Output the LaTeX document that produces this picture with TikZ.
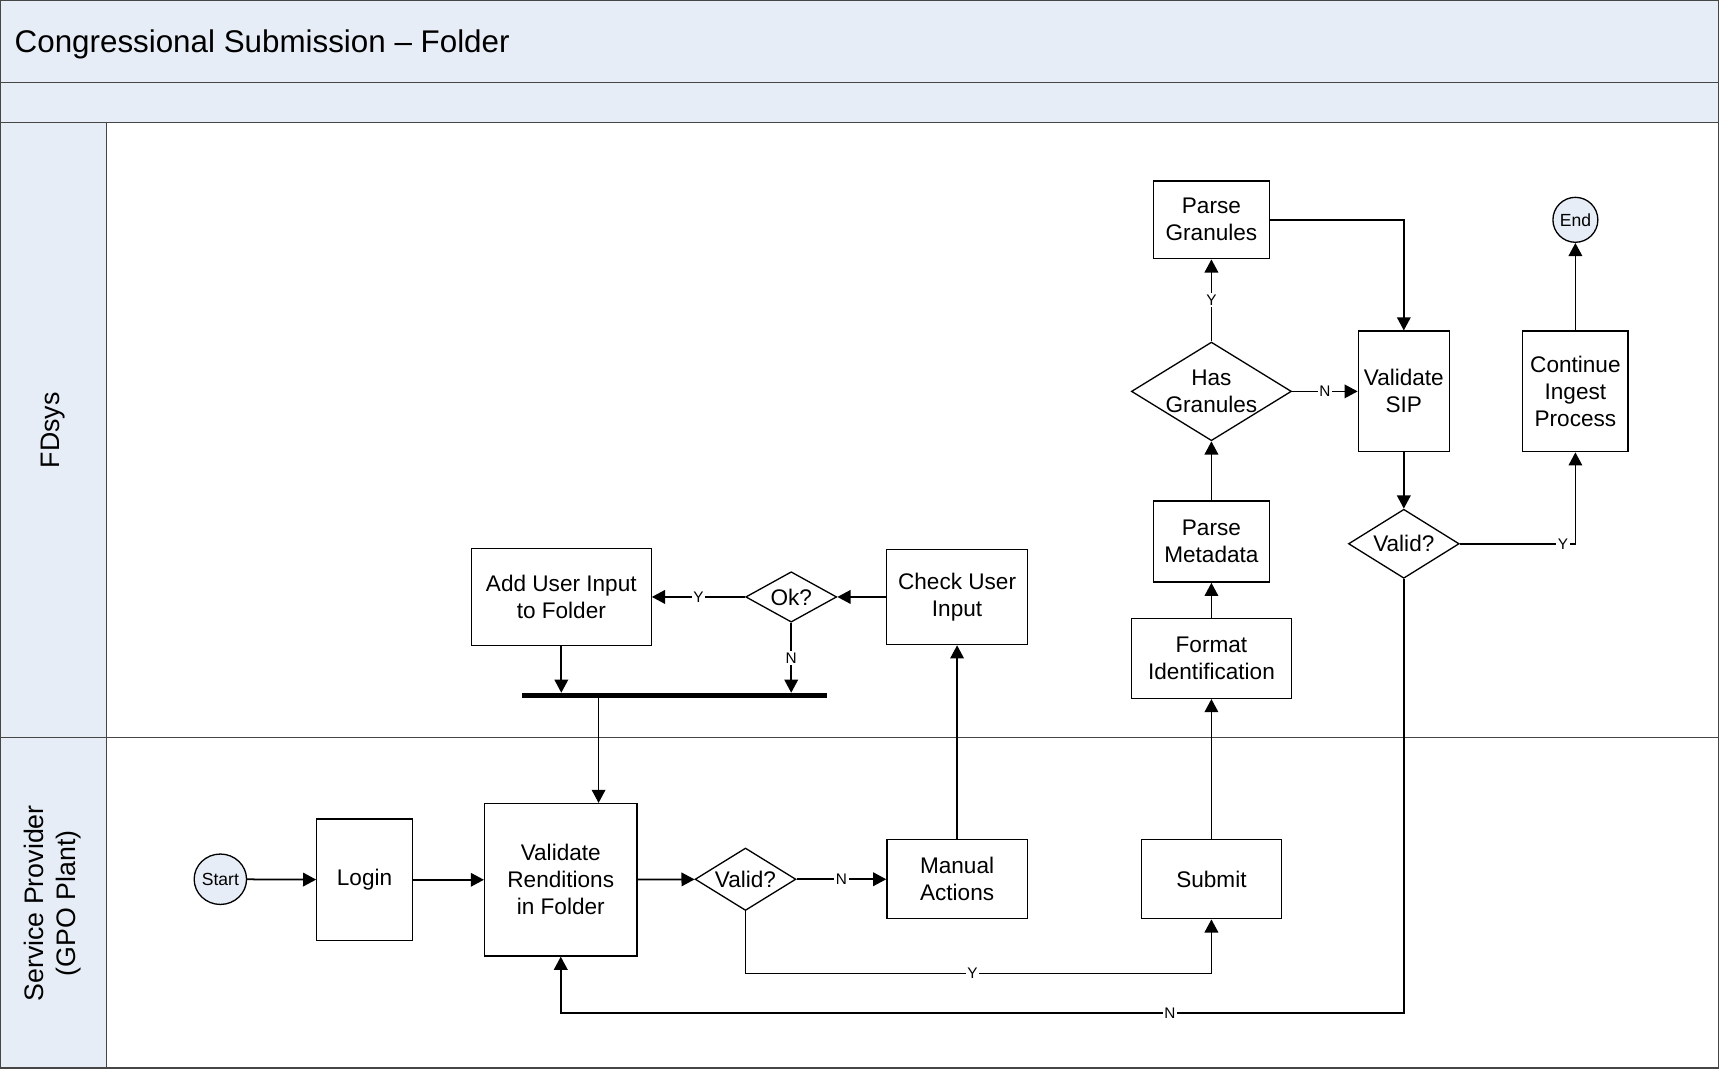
\documentclass[tikz,border=0pt]{standalone}
\usepackage{fontspec}
\setmainfont{Liberation Sans}
\usetikzlibrary{shapes.geometric,arrows.meta,calc}
\definecolor{bandblue}{RGB}{231,237,247}
\definecolor{framegray}{RGB}{70,70,70}
\tikzset{
 box/.style={draw=black, line width=0.6pt, fill=white, align=center, inner sep=1pt, font=\fontsize{10.3pt}{12.3pt}\selectfont},
 sz/.style 2 args={minimum width=#1*0.5pt, minimum height=#2*0.5pt},
 dia/.style={diamond, draw=black, line width=0.6pt, fill=white, inner sep=0pt},
 dtxt/.style={font=\fontsize{10.3pt}{12.3pt}\selectfont, align=center, inner sep=0pt},
 term/.style={ellipse, draw=black, line width=0.6pt, fill=bandblue, inner sep=0pt, font=\fontsize{8pt}{9pt}\selectfont},
 arr/.style={line width=0.8pt, -{Triangle[length=6pt,width=6.2pt]}},
 lbl/.style={fill=white, inner sep=0.8pt, font=\fontsize{7pt}{8pt}\selectfont},
 frame/.style={draw=framegray, line width=0.6pt},
 lane/.style={rotate=90, align=center, font=\fontsize{12.2pt}{14.5pt}\selectfont}
}
\begin{document}
\begin{tikzpicture}[x=0.5pt,y=-0.5pt]
\useasboundingbox (0,0) rectangle (1568,975);
% background bands
\fill[bandblue] (0,0) rectangle (1568,112);
\fill[bandblue] (0,112) rectangle (97,975);
\draw[frame] (0,75) -- (1568,75);
\draw[frame] (0,112) -- (1568,112);
\draw[frame] (97,112) -- (97,975);
\draw[frame] (0,673) -- (1568,673);
\draw[frame] (0.6,0.6) rectangle (1567.4,974.2);
% titles
\node[anchor=base west, font=\fontsize{14.3pt}{16pt}\selectfont, inner sep=0pt] (title) at (13,48) {Congressional Submission – Folder};
\node[lane] (fdsys) at (48,392.5) {FDsys};
\node[lane] (sp) at (48,824) {Service Provider\\(GPO Plant)};
% lower lane nodes
\node[term, minimum width=23pt, minimum height=23pt] (start) at (201,802) {Start};
\node[box, sz={87}{111}] (login) at (332.5,802.5) {Login};
\node[box, sz={139}{139}] (validate) at (511.5,802.5) {Validate\\Renditions\\in Folder};
\node[dia, sz={92}{57}, label={[dtxt]center:Valid?}] (valid1) at (680,802) {};
\node[box, sz={128}{72}] (manual) at (873,802) {Manual\\Actions};
\node[box, sz={128}{72}] (submit) at (1105,802) {Submit};
% upper lane nodes
\node[box, sz={129}{87}] (check) at (873,544.5) {Check User\\Input};
\node[dia, sz={83}{46}, label={[dtxt]center:Ok?}] (ok) at (721.7,544.5) {};
\node[box, sz={164}{88}] (add) at (512,544.5) {Add User Input\\to Folder};
\node[fill=black, inner sep=0pt, minimum width=139pt, minimum height=2.2pt] (bar) at (615,634.5) {};
\node[box, sz={146}{73}] (format) at (1105,600.5) {Format\\Identification};
\node[box, sz={106}{74}] (meta) at (1105,494) {Parse\\Metadata};
\node[dia, sz={146}{90}, label={[dtxt]center:Has\\Granules}] (has) at (1105,357) {};
\node[box, sz={106}{71}] (gran) at (1105,200.5) {Parse\\Granules};
\node[box, sz={83}{110}] (sip) at (1280.5,357) {Validate\\SIP};
\node[dia, sz={101}{63}, label={[dtxt]center:Valid?}] (valid2) at (1280.5,496) {};
\node[box, sz={96}{110}] (cont) at (1437,357) {Continue\\Ingest\\Process};
\node[term, minimum width=20.5pt, minimum height=20.5pt] (end) at (1437,200.5) {End};
% connectors
\draw[arr] (start) -- (login);
\draw[arr] (login) -- (validate);
\draw[arr] (validate) -- (valid1);
\draw[arr] (valid1) -- node[lbl]{N} (manual);
\coordinate (y1) at (680,888);
\coordinate (y2) at (1105,888);
\draw[arr] (valid1.south) -- (y1) -- node[lbl, pos=0.487]{Y} (y2) -- (submit.south);
\draw[arr] (manual) -- (check);
\draw[arr] (check) -- (ok);
\draw[arr] (ok) -- node[lbl]{Y} (add);
\draw[arr] (ok.south) -- node[lbl]{N} (ok.south |- bar.north);
\draw[arr] (add.south) -- (add.south |- bar.north);
\coordinate (bj) at (546,634.5);
\draw[arr] (bj) -- (bj |- validate.north);
\draw[arr] (submit) -- (format);
\draw[arr] (format) -- (meta);
\draw[arr] (meta) -- (has);
\draw[arr] (has) -- node[lbl]{Y} (gran);
\draw[arr] (has) -- node[lbl]{N} (sip);
\draw[arr] (gran.east) -| (sip.north);
\draw[arr] (sip) -- (valid2);
\draw[arr] (valid2.east) -| node[lbl, pos=0.446]{Y} (cont.south);
\draw[arr] (cont) -- (end);
\coordinate (n1) at (1280.5,924);
\coordinate (n2) at (511.5,924);
\draw[arr] (valid2.south) -- (n1) -- node[lbl, pos=0.2775]{N} (n2) -- (validate.south);
\end{tikzpicture}
\end{document}
